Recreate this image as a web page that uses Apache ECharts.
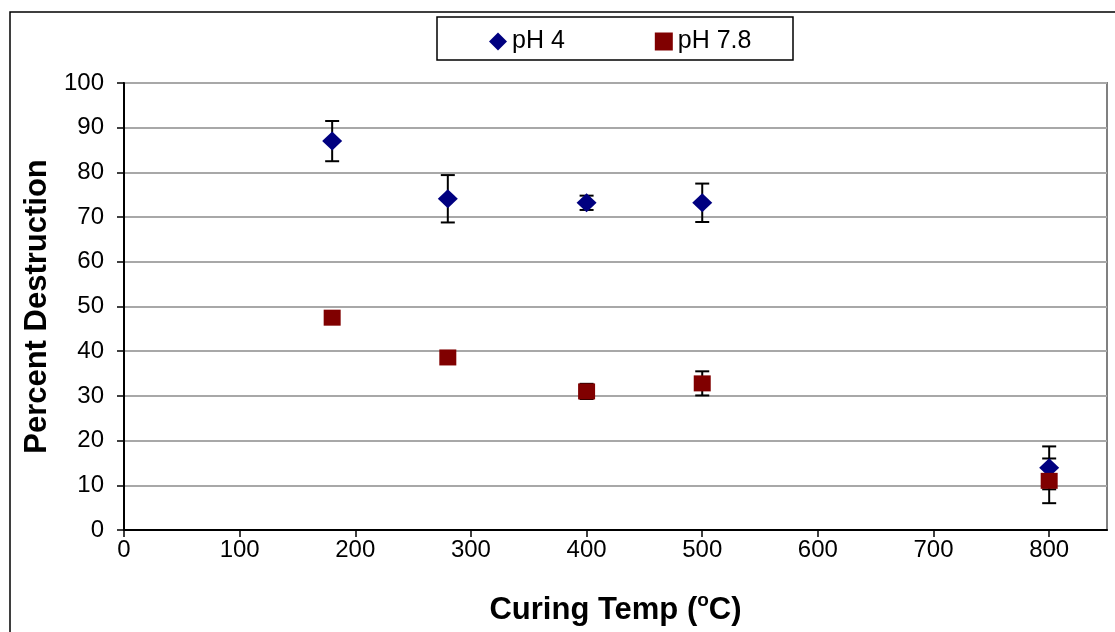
<!DOCTYPE html>
<html>
<head>
<meta charset="utf-8">
<script src="https://cdn.jsdelivr.net/npm/echarts@6/dist/echarts.min.js"></script>
<style>
  html, body { margin: 0; padding: 0; background: #fff; }
  #chart { width: 1115px; height: 632px; }
</style>
</head>
<body>
<div id="chart"></div>
<script>
// Curing temperature (°C)
const temps = [180, 280, 400, 500, 800];
// Percent destruction at pH 4, with error (±)
const ph4 = [87.0, 74.1, 73.2, 73.2, 13.9];
const ph4Err = [4.5, 5.3, 1.6, 4.3, 4.8];
// Percent destruction at pH 7.8, with error (±)
const ph78 = [47.5, 38.6, 31.0, 32.8, 11.0];
const ph78Err = [1.0, 1.0, 1.7, 2.7, 5.0];
// Axis ticks
const xTicks = { min: 0, max: 850, interval: 100 };
const yTicks = { min: 0, max: 100, interval: 10 };

const FONT = '"Liberation Sans", Arial, sans-serif';

function points(ys) { return temps.map((t, i) => [t, ys[i]]); }
function bars(ys, errs) { return temps.map((t, i) => [t, ys[i] - errs[i], ys[i] + errs[i]]); }

function renderErrorBar(params, api) {
  const x = api.value(0);
  const lo = api.coord([x, api.value(1)]);
  const hi = api.coord([x, api.value(2)]);
  const half = 7;
  const style = { stroke: '#000', lineWidth: 2 };
  return {
    type: 'group',
    children: [
      { type: 'line', shape: { x1: lo[0], y1: lo[1], x2: hi[0], y2: hi[1] }, style },
      { type: 'line', shape: { x1: hi[0] - half, y1: hi[1], x2: hi[0] + half, y2: hi[1] }, style },
      { type: 'line', shape: { x1: lo[0] - half, y1: lo[1], x2: lo[0] + half, y2: lo[1] }, style }
    ]
  };
}

const chart = echarts.init(document.getElementById('chart'), null, { renderer: 'canvas' });

chart.setOption({
  animation: false,
  backgroundColor: '#fff',
  textStyle: { fontFamily: FONT },
  graphic: [
    { type: 'rect', z: -10, shape: { x: 10, y: 12, width: 1300, height: 800 },
      style: { fill: 'none', stroke: '#000', lineWidth: 1.5 } },
    { type: 'rect', z: -10, shape: { x: 437, y: 17, width: 356, height: 43 },
      style: { fill: '#fff', stroke: '#000', lineWidth: 1.5 } }
  ],
  legend: {
    left: 484,
    top: 24,
    itemGap: 90,
    itemWidth: 18,
    itemHeight: 18,
    textStyle: { fontFamily: FONT, fontSize: 25, color: '#000' },
    data: [
      { name: 'pH 4', icon: 'diamond' },
      { name: 'pH 7.8', icon: 'rect' }
    ]
  },
  grid: {
    left: 124, top: 83, right: 8, bottom: 102,
    show: true, borderColor: '#808080', borderWidth: 2, backgroundColor: '#fff'
  },
  xAxis: {
    type: 'value',
    min: xTicks.min, max: xTicks.max, interval: xTicks.interval,
    axisLine: { show: true, onZero: false, lineStyle: { color: '#000', width: 2 } },
    axisTick: { show: true, length: 7, lineStyle: { color: '#000', width: 1.5 } },
    axisLabel: {
      margin: 8, fontSize: 24, color: '#000', fontFamily: FONT,
      showMaxLabel: false
    },
    splitLine: { show: false },
    name: '{a|Curing Temp (}{s|o}{a|C)}',
    nameLocation: 'middle',
    nameGap: 61,
    nameTextStyle: {
      rich: {
        a: { fontSize: 31, fontWeight: 'bold', color: '#000', fontFamily: FONT, verticalAlign: 'bottom' },
        s: { fontSize: 19, fontWeight: 'bold', color: '#000', fontFamily: FONT, verticalAlign: 'top', padding: [0, 0, 16, 0] }
      }
    }
  },
  yAxis: {
    type: 'value',
    min: yTicks.min, max: yTicks.max, interval: yTicks.interval,
    axisLine: { show: true, lineStyle: { color: '#000', width: 2 } },
    axisTick: { show: true, length: 7, lineStyle: { color: '#000', width: 1.5 } },
    axisLabel: { margin: 20, fontSize: 24, color: '#000', fontFamily: FONT },
    splitLine: { show: true, lineStyle: { color: '#a8a8a8', width: 2 } },
    name: 'Percent Destruction',
    nameLocation: 'middle',
    nameGap: 70,
    nameTextStyle: { fontSize: 31, fontWeight: 'bold', color: '#000', fontFamily: FONT }
  },
  series: [
    {
      name: 'pH 4 error', type: 'custom', renderItem: renderErrorBar,
      data: bars(ph4, ph4Err), encode: { x: 0, y: [1, 2] }, z: 2, silent: true
    },
    {
      name: 'pH 7.8 error', type: 'custom', renderItem: renderErrorBar,
      data: bars(ph78, ph78Err), encode: { x: 0, y: [1, 2] }, z: 2, silent: true
    },
    {
      name: 'pH 4', type: 'scatter', symbol: 'diamond', symbolSize: [20, 19],
      itemStyle: { color: '#000080', opacity: 1 }, data: points(ph4), z: 4
    },
    {
      name: 'pH 7.8', type: 'scatter', symbol: 'rect', symbolSize: [17, 16],
      itemStyle: { color: '#800000', opacity: 1 }, data: points(ph78), z: 5
    }
  ]
});
</script>
</body>
</html>
